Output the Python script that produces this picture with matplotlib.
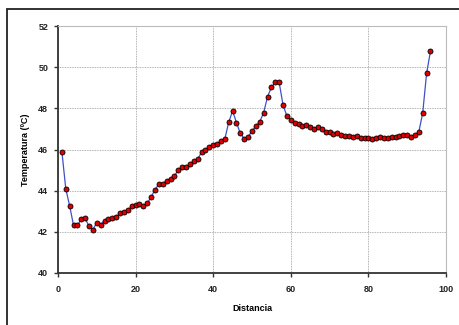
import matplotlib
matplotlib.use("Agg")
import matplotlib.pyplot as plt
from matplotlib.patches import Rectangle

# ── Data ──────────────────────────────────────────────────────────────────────

distancia = list(range(1, 97))
temperatura = [
    45.90, 44.10, 43.26, 42.32, 42.32, 42.61, 42.65, 42.27, 42.11, 42.45,  # 1-10
    42.35, 42.55, 42.63, 42.65, 42.71, 42.92, 42.97, 43.05, 43.25, 43.30,  # 11-20
    43.33, 43.25, 43.38, 43.70, 44.04, 44.33, 44.32, 44.49, 44.59, 44.72,  # 21-30
    45.00, 45.16, 45.16, 45.30, 45.42, 45.53, 45.87, 45.97, 46.10, 46.21,  # 31-40
    46.29, 46.39, 46.52, 47.32, 47.88, 47.30, 46.78, 46.52, 46.62, 46.89,  # 41-50
    47.14, 47.35, 47.79, 48.56, 49.02, 49.26, 49.26, 48.16, 47.62, 47.43,  # 51-60
    47.27, 47.22, 47.14, 47.18, 47.07, 47.02, 47.07, 47.02, 46.86, 46.83,  # 61-70
    46.75, 46.78, 46.70, 46.65, 46.65, 46.62, 46.67, 46.54, 46.54, 46.54,  # 71-80
    46.49, 46.57, 46.62, 46.54, 46.54, 46.62, 46.62, 46.65, 46.70, 46.70,  # 81-90
    46.62, 46.70, 46.86, 47.78, 49.70, 50.78,                              # 91-96
]

XTICKS = [0, 20, 40, 60, 80, 100]
YTICKS = [40, 42, 44, 46, 48, 50, 52]

# ── Style ─────────────────────────────────────────────────────────────────────

plt.rcParams.update({
    "font.family": "Liberation Sans",
    "font.weight": "bold",
    "font.size":   6.5,
})

fig = plt.figure(figsize=(4.59, 3.25), dpi=100)
fig.patches.append(Rectangle((7 / 459, -0.1), 1.2, 1 - 9 / 325 + 0.1,
                             transform=fig.transFigure, fill=False,
                             edgecolor="#222222", linewidth=1.3))

ax = fig.add_axes([58 / 459, 1 - 273 / 325, (446 - 58) / 459, (273 - 26) / 325])

ax.plot(distancia, temperatura, color="#4050C8", linewidth=0.9,
        marker="o", markersize=3.6, markerfacecolor="#DD0000",
        markeredgecolor="black", markeredgewidth=0.6, zorder=3)

ax.set_xlim(0, 100)
ax.set_ylim(40, 52)
ax.set_xticks(XTICKS)
ax.set_yticks(YTICKS)
ax.grid(True, linestyle=(0, (1, 1)), color="#999999", linewidth=0.6)

for s in ("top", "right"):
    ax.spines[s].set_color("#BBBBBB")
    ax.spines[s].set_linewidth(0.8)
for s in ("left", "bottom"):
    ax.spines[s].set_color("#333333")
    ax.spines[s].set_linewidth(1.3)

ax.tick_params(direction="out", length=3, width=1, color="#333333",
               labelcolor="#222222")
ax.tick_params(axis="x", pad=6)
ax.tick_params(axis="y", pad=4)

ax.set_xlabel("Distancia", fontweight="bold", labelpad=7)
ax.set_ylabel("Temperatura (ºC)", fontweight="bold", labelpad=6)

fig.savefig("out.png", dpi=100)
